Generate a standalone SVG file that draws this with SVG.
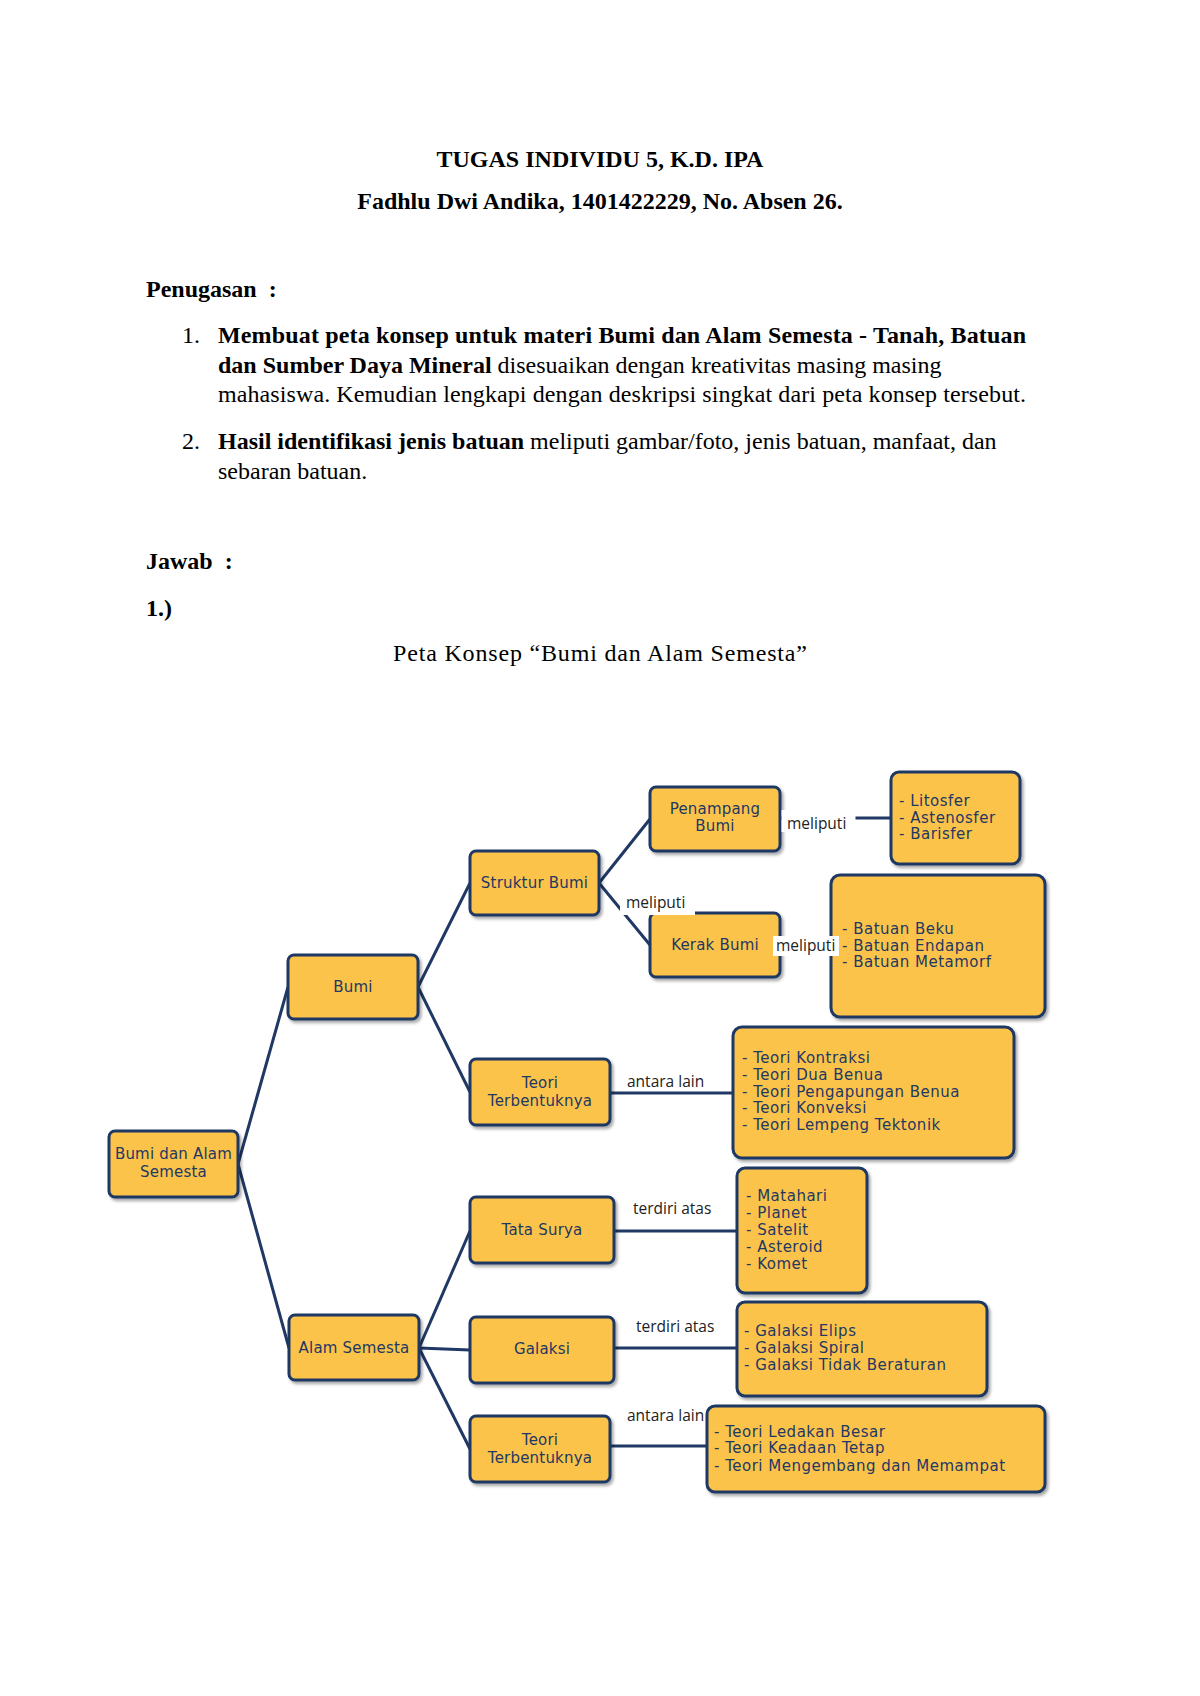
<svg xmlns="http://www.w3.org/2000/svg" width="1200" height="1696" viewBox="0 0 1200 1696">
<style>
.doc{font-family:"Liberation Serif","Times New Roman",serif;font-size:24px;fill:#000}
.b{font-weight:bold}
.box{fill:#FBC34A;stroke:#1F3864;stroke-width:3;filter:url(#sh)}
.nt{font-family:"DejaVu Sans",sans-serif;font-size:15px;fill:#1F3864;text-anchor:middle;letter-spacing:0.2px}
.lt{font-family:"DejaVu Sans",sans-serif;font-size:15px;fill:#1F3864;letter-spacing:0.5px}
.cl{font-family:"Open Sans",sans-serif;font-size:15.5px;fill:#222}
.con line,.con path{stroke:#1F3864;stroke-width:3;fill:none}
.bg{fill:#fff}
</style>
<defs>
<filter id="sh" x="-10%" y="-10%" width="130%" height="130%">
<feDropShadow dx="2" dy="2.5" stdDeviation="1.5" flood-color="#000" flood-opacity="0.35"/>
</filter>
</defs>
<rect width="1200" height="1696" fill="#fff"/>

<g id="header">
<text class="doc b" x="600" y="167" text-anchor="middle">TUGAS INDIVIDU 5, K.D. IPA</text>
<text class="doc b" x="600" y="209" text-anchor="middle">Fadhlu Dwi Andika, 1401422229, No. Absen 26.</text>
<text class="doc b" x="146" y="297" xml:space="preserve">Penugasan  :</text>
<text class="doc" x="182" y="343">1.</text>
<text class="doc b" x="218" y="343" textLength="808" lengthAdjust="spacing">Membuat peta konsep untuk materi Bumi dan Alam Semesta - Tanah, Batuan</text>
<text class="doc" x="218" y="373"><tspan class="b">dan Sumber Daya Mineral</tspan> disesuaikan dengan kreativitas masing masing</text>
<text class="doc" x="218" y="402" textLength="808" lengthAdjust="spacing">mahasiswa. Kemudian lengkapi dengan deskripsi singkat dari peta konsep tersebut.</text>
<text class="doc" x="182" y="449">2.</text>
<text class="doc" x="218" y="449"><tspan class="b">Hasil identifikasi jenis batuan</tspan> meliputi gambar/foto, jenis batuan, manfaat, dan</text>
<text class="doc" x="218" y="479">sebaran batuan.</text>
<text class="doc b" x="146" y="569" xml:space="preserve">Jawab  :</text>
<text class="doc b" x="146" y="616">1.)</text>
<text class="doc" x="393" y="661" textLength="414" lengthAdjust="spacing">Peta Konsep “Bumi dan Alam Semesta”</text>
</g>

<g id="connectors" class="con">
<line x1="238" y1="1164" x2="288" y2="987"/>
<line x1="238" y1="1164" x2="289" y2="1348"/>
<line x1="418" y1="987" x2="470" y2="883"/>
<line x1="418" y1="987" x2="470" y2="1092"/>
<line x1="599" y1="883" x2="650" y2="819"/>
<line x1="599" y1="883" x2="650" y2="945"/>
<line x1="780" y1="818" x2="891" y2="818"/>
<line x1="780" y1="945" x2="831" y2="945"/>
<line x1="610" y1="1093" x2="733" y2="1093"/>
<line x1="614" y1="1231" x2="737" y2="1231"/>
<line x1="419" y1="1348" x2="470" y2="1231"/>
<line x1="419" y1="1348" x2="470" y2="1350"/>
<line x1="419" y1="1348" x2="470" y2="1449"/>
<line x1="614" y1="1348" x2="737" y2="1348"/>
<line x1="610" y1="1446" x2="707" y2="1446"/>
</g>

<g id="n-bdas"><rect class="box" x="109" y="1131" width="129" height="66" rx="6"/>
<text class="nt" x="173.5" y="1159">Bumi dan Alam</text><text class="nt" x="173.5" y="1177">Semesta</text></g>
<g id="n-bumi"><rect class="box" x="288" y="955" width="130" height="64" rx="6"/>
<text class="nt" x="353" y="992">Bumi</text></g>
<g id="n-struktur"><rect class="box" x="470" y="851" width="129" height="64" rx="6"/>
<text class="nt" x="534.5" y="888">Struktur Bumi</text></g>
<g id="n-penampang"><rect class="box" x="650" y="787" width="130" height="64" rx="6"/>
<text class="nt" x="715" y="814">Penampang</text><text class="nt" x="715" y="831">Bumi</text></g>
<g id="n-lapisan"><rect class="box" x="891" y="772" width="129" height="92" rx="8"/>
<text class="lt" x="899" y="806">- Litosfer</text><text class="lt" x="899" y="823">- Astenosfer</text><text class="lt" x="899" y="839">- Barisfer</text></g>
<g id="n-kerak"><rect class="box" x="650" y="913" width="130" height="64" rx="6"/>
<text class="nt" x="715" y="950">Kerak Bumi</text></g>
<g id="n-batuan"><rect class="box" x="831" y="875" width="214" height="142" rx="9"/>
<text class="lt" x="842" y="934">- Batuan Beku</text><text class="lt" x="842" y="951">- Batuan Endapan</text><text class="lt" x="842" y="967">- Batuan Metamorf</text></g>
<g id="n-teorib"><rect class="box" x="470" y="1059" width="140" height="66" rx="6"/>
<text class="nt" x="540" y="1088">Teori</text><text class="nt" x="540" y="1106">Terbentuknya</text></g>
<g id="n-kontraksi"><rect class="box" x="733" y="1027" width="281" height="131" rx="9"/>
<text class="lt" x="742" y="1063">- Teori Kontraksi</text><text class="lt" x="742" y="1080">- Teori Dua Benua</text><text class="lt" x="742" y="1097">- Teori Pengapungan Benua</text><text class="lt" x="742" y="1113">- Teori Konveksi</text><text class="lt" x="742" y="1130">- Teori Lempeng Tektonik</text></g>
<g id="n-tatasurya"><rect class="box" x="470" y="1197" width="144" height="66" rx="6"/>
<text class="nt" x="542" y="1235">Tata Surya</text></g>
<g id="n-matahari"><rect class="box" x="737" y="1168" width="130" height="125" rx="8"/>
<text class="lt" x="746" y="1201">- Matahari</text><text class="lt" x="746" y="1218">- Planet</text><text class="lt" x="746" y="1235">- Satelit</text><text class="lt" x="746" y="1252">- Asteroid</text><text class="lt" x="746" y="1269">- Komet</text></g>
<g id="n-alam"><rect class="box" x="289" y="1315" width="130" height="65" rx="6"/>
<text class="nt" x="354" y="1353">Alam Semesta</text></g>
<g id="n-galaksi"><rect class="box" x="470" y="1317" width="144" height="66" rx="6"/>
<text class="nt" x="542" y="1354">Galaksi</text></g>
<g id="n-elips"><rect class="box" x="737" y="1302" width="250" height="94" rx="8"/>
<text class="lt" x="744" y="1336">- Galaksi Elips</text><text class="lt" x="744" y="1353">- Galaksi Spiral</text><text class="lt" x="744" y="1370">- Galaksi Tidak Beraturan</text></g>
<g id="n-teorias"><rect class="box" x="470" y="1416" width="140" height="66" rx="6"/>
<text class="nt" x="540" y="1445">Teori</text><text class="nt" x="540" y="1463">Terbentuknya</text></g>
<g id="n-ledakan"><rect class="box" x="707" y="1406" width="338" height="86" rx="8"/>
<text class="lt" x="714" y="1437">- Teori Ledakan Besar</text><text class="lt" x="714" y="1453">- Teori Keadaan Tetap</text><text class="lt" x="714" y="1471">- Teori Mengembang dan Memampat</text></g>

<g id="labels">
<rect class="bg" x="781.5" y="810" width="74" height="22"/>
<text class="cl" x="787" y="829">meliputi</text>
<rect class="bg" x="620" y="892" width="75" height="23"/>
<text class="cl" x="626" y="908">meliputi</text>
<rect class="bg" x="773" y="936" width="66" height="20"/>
<text class="cl" x="776" y="951">meliputi</text>
<text class="cl" x="627" y="1087">antara lain</text>
<text class="cl" x="633" y="1214">terdiri atas</text>
<text class="cl" x="636" y="1332">terdiri atas</text>
<text class="cl" x="627" y="1421">antara lain</text>
</g>
</svg>
